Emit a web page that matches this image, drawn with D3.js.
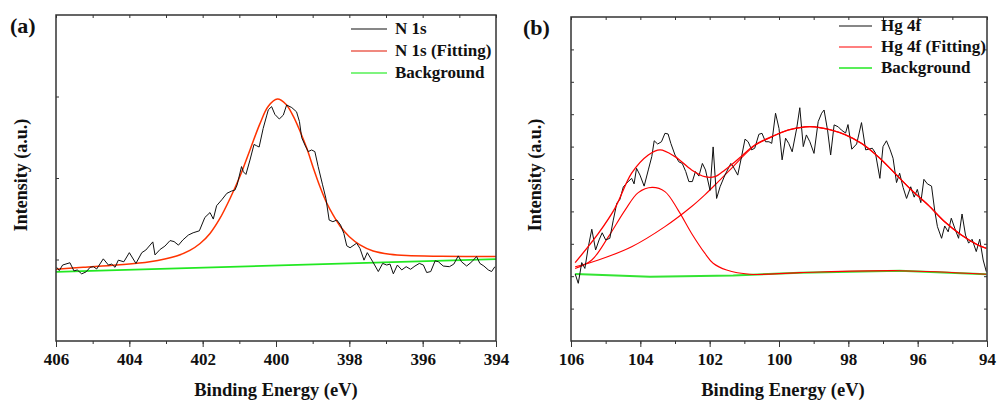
<!DOCTYPE html>
<html>
<head>
<meta charset="utf-8">
<script src="https://cdn.jsdelivr.net/npm/d3@7"></script>
<style>
  body { margin: 0; background: #fff; }
  svg { display: block; }
  text { font-family: "Liberation Serif", "Times New Roman", serif; font-weight: bold; }
</style>
</head>
<body>
<svg id="chart" width="997" height="401"></svg>
<script>
// tick labels (binding energy, eV)
const nTicks = [406, 404, 402, 400, 398, 396, 394]
const hgTicks = [106, 104, 102, 100, 98, 96, 94]

const nLegend = ['N 1s', 'N 1s (Fitting)', 'Background']
const hgLegend = ['Hg 4f', 'Hg 4f (Fitting)', 'Background']

// N 1s spectrum [eV, intensity a.u.]
const nRaw = [
  [405.98,22.6],[405.91,21.6],[405.82,23.3],[405.62,24.0],[405.51,21.5],[405.42,21.8],[405.30,20.6],[405.18,21.2],
  [405.07,22.6],[404.98,22.8],[404.89,22.1],[404.71,25.2],[404.57,23.3],[404.48,23.6],[404.39,22.6],[404.30,24.8],
  [404.15,24.3],[404.00,27.1],[403.82,23.8],[403.66,27.1],[403.55,27.9],[403.36,30.4],[403.30,26.4],[403.16,28.1],
  [403.03,29.1],[402.89,30.8],[402.78,30.5],[402.66,29.4],[402.54,31.0],[402.39,32.5],[402.26,33.2],[402.09,33.8],
  [401.94,37.9],[401.80,39.4],[401.71,37.4],[401.62,41.5],[401.48,43.3],[401.34,45.3],[401.21,46.0],[401.12,46.3],
  [401.06,47.9],[400.94,53.5],[400.89,51.9],[400.82,51.1],[400.71,55.5],[400.60,60.3],[400.53,59.9],[400.46,59.5],
  [400.35,65.2],[400.25,69.3],[400.21,70.9],[400.12,71.9],[400.03,69.5],[399.91,68.1],[399.80,69.3],[399.71,72.4],
  [399.57,71.6],[399.44,70.3],[399.36,67.3],[399.30,62.4],[399.21,60.1],[399.12,58.1],[399.03,58.6],[398.94,58.1],
  [398.85,53.5],[398.73,47.9],[398.64,43.8],[398.55,37.1],[398.45,36.6],[398.34,37.1],[398.24,35.6],[398.15,33.0],
  [398.07,29.2],[397.98,28.6],[397.80,30.0],[397.71,28.4],[397.60,24.8],[397.51,27.1],[397.36,24.3],[397.21,21.3],
  [397.09,23.8],[396.98,23.3],[396.89,23.6],[396.80,20.6],[396.69,23.3],[396.57,21.8],[396.45,22.8],[396.33,22.0],
  [396.21,23.0],[396.09,23.8],[395.98,23.3],[395.89,21.0],[395.78,21.3],[395.66,24.6],[395.57,24.3],[395.44,23.0],
  [395.27,22.8],[395.15,23.6],[395.03,26.1],[394.94,24.3],[394.80,23.0],[394.66,24.3],[394.53,25.9],[394.44,23.8],
  [394.33,23.0],[394.21,21.8],[394.12,21.3],[394.03,22.8]
]
const nFit = [
  [406.00,22.0],[405.26,22.6],[404.34,23.3],[403.44,24.3],[402.71,26.1],[402.35,27.8],[402.07,29.9],[401.80,33.0],
  [401.53,37.6],[401.25,43.8],[400.98,50.6],[400.71,58.6],[400.44,66.6],[400.21,72.0],[399.96,74.2],[399.73,72.6],
  [399.53,69.0],[399.35,64.5],[399.16,59.1],[398.98,53.0],[398.80,47.3],[398.62,42.4],[398.44,38.6],[398.25,35.2],
  [398.00,32.0],[397.71,29.5],[397.35,27.6],[396.89,26.6],[396.44,26.2],[395.50,26.0],[394.00,25.9]
]
const nBg = [[406.0,21.2],[394.0,25.1]]

// Hg 4f spectrum [eV, intensity a.u.]
const hgRaw = [
  [105.88,20.7],[105.79,17.8],[105.69,24.2],[105.60,22.4],[105.50,29.1],[105.40,34.5],[105.29,28.1],[105.19,31.2],
  [105.10,33.4],[105.00,31.2],[104.88,31.7],[104.78,37.3],[104.68,42.5],[104.59,43.7],[104.49,47.6],[104.35,49.2],
  [104.25,50.2],[104.18,48.5],[104.11,53.3],[104.01,51.2],[103.89,47.8],[103.77,52.8],[103.67,56.9],[103.60,61.8],
  [103.50,60.8],[103.39,61.5],[103.29,64.1],[103.20,63.9],[103.12,61.0],[103.00,57.4],[102.89,55.3],[102.79,54.8],
  [102.69,52.3],[102.60,49.2],[102.50,49.2],[102.41,52.3],[102.31,50.9],[102.21,54.8],[102.12,52.8],[101.99,46.5],
  [101.90,59.9],[101.80,44.0],[101.70,47.6],[101.56,51.2],[101.39,54.8],[101.32,53.8],[101.19,51.2],[101.08,56.9],
  [100.98,62.3],[100.89,61.5],[100.79,59.0],[100.70,59.5],[100.58,63.8],[100.49,64.1],[100.39,61.5],[100.29,61.5],
  [100.21,61.0],[100.10,70.3],[100.00,65.6],[99.91,55.9],[99.81,62.6],[99.72,61.0],[99.62,58.4],[99.49,65.6],
  [99.40,72.0],[99.30,60.0],[99.21,63.6],[99.11,61.5],[98.99,57.9],[98.87,67.7],[98.77,70.3],[98.70,71.3],
  [98.60,65.1],[98.51,57.4],[98.41,66.7],[98.29,66.1],[98.20,65.1],[98.08,64.2],[98.01,66.8],[97.90,59.2],
  [97.76,60.8],[97.62,67.4],[97.50,59.0],[97.41,59.2],[97.31,59.5],[97.22,58.1],[97.09,50.2],[97.00,60.0],
  [96.90,61.8],[96.80,59.2],[96.71,56.4],[96.61,48.9],[96.52,51.8],[96.42,47.4],[96.32,44.0],[96.20,47.6],
  [96.10,44.4],[96.01,46.8],[95.91,42.7],[95.82,49.9],[95.72,48.5],[95.60,47.8],[95.51,40.4],[95.43,35.3],
  [95.31,31.7],[95.22,35.5],[95.12,33.7],[95.03,37.9],[94.93,34.8],[94.82,31.7],[94.72,39.2],[94.62,32.7],
  [94.53,30.2],[94.43,31.4],[94.31,27.6],[94.21,31.4],[94.11,25.0],[94.02,21.4]
]
const hgFit = [
  [105.88,24.2],[105.21,33.2],[104.73,41.0],[104.25,51.8],[103.77,57.4],[103.43,59.0],[103.00,56.9],[102.52,52.8],
  [102.14,50.7],[101.85,50.7],[101.56,52.8],[101.15,56.4],[100.70,60.5],[100.21,63.1],[99.74,65.1],[99.25,66.1],
  [98.97,66.1],[98.49,65.1],[98.10,63.7],[97.62,61.0],[97.14,56.9],[96.66,51.8],[96.18,46.6],[95.70,42.0],
  [95.22,36.8],[94.74,32.7],[94.26,29.6],[94.02,28.6]
]
const hgPeak1 = [
  [105.88,22.4],[105.40,25.0],[104.92,32.2],[104.44,40.4],[104.06,45.8],[103.66,47.4],[103.29,46.1],[102.91,40.4],
  [102.52,33.2],[102.14,27.1],[101.90,24.0],[101.51,21.9],[100.84,20.6],[99.40,21.1],[96.52,21.7],[94.02,20.6]
]
const hgPeak2 = [
  [105.88,22.9],[105.21,25.0],[104.25,29.1],[103.29,35.3],[102.52,41.5],[102.14,45.1],[101.75,49.2],[101.37,53.3],
  [100.70,60.3],[100.21,63.0],[99.74,65.1],[99.25,66.1],[98.97,66.1],[98.49,65.1],[98.10,63.7],[97.62,61.0],
  [97.14,56.9],[96.66,51.8],[96.18,46.6],[95.70,42.0],[95.22,36.8],[94.74,32.7],[94.26,29.6],[94.02,28.6]
]
const hgBg = [[105.88,20.7],[103.72,19.8],[101.32,20.2],[99.40,21.1],[96.52,21.7],[94.02,20.6]]

const svg = d3.select('#chart')
const FONT = '"Liberation Serif", "Times New Roman", serif'

function drawPanel(p) {
  const g = svg.append('g')
  const x = d3.scaleLinear().domain([p.ticks[0], p.ticks[p.ticks.length - 1]]).range([p.left, p.right])
  const y = d3.scaleLinear().domain([0, 100]).range([p.bottom, p.top])
  const minor = d3.range(p.ticks[p.ticks.length - 1], p.ticks[0] + 1, 1)

  const clipId = 'clip-' + p.key
  svg.append('clipPath').attr('id', clipId)
    .append('rect').attr('x', p.left).attr('y', p.top).attr('width', p.right - p.left).attr('height', p.bottom - p.top)

  const line = d3.line().x(d => x(d[0])).y(d => y(d[1]))
  const smooth = d3.line().x(d => x(d[0])).y(d => y(d[1])).curve(d3.curveCatmullRom.alpha(0.5))

  const plot = g.append('g').attr('clip-path', `url(#${clipId})`)
  p.series.forEach(s => {
    plot.append('path')
      .datum(s.data)
      .attr('fill', 'none')
      .attr('stroke', s.color)
      .attr('stroke-width', s.width)
      .attr('stroke-linejoin', 'round')
      .attr('d', s.smooth ? smooth(s.data) : line(s.data))
  })

  // bottom axis, labels
  const bottom = g.append('g').attr('transform', `translate(0,${p.bottom})`)
  bottom.call(d3.axisBottom(x).tickValues(p.ticks).tickSize(6).tickPadding(6).tickFormat(d3.format('d')))
  bottom.append('g').call(d3.axisBottom(x).tickValues(minor).tickSize(3).tickFormat(''))
  bottom.attr('font-family', FONT).attr('font-size', 17).attr('font-weight', 'bold')
  bottom.selectAll('text').attr('fill', '#111')

  // inward ticks on top / left / right
  g.append('g').attr('transform', `translate(0,${p.top})`)
    .call(d3.axisBottom(x).tickValues(minor).tickSize(3).tickFormat(''))
  g.append('g').attr('transform', `translate(${p.left},0)`)
    .call(d3.axisRight(y).tickValues(p.yTicks).tickSize(3).tickFormat(''))
  if (p.rightTicks) {
    g.append('g').attr('transform', `translate(${p.right},0)`)
      .call(d3.axisLeft(y).tickValues(p.yTicks).tickSize(3).tickFormat(''))
  }
  g.selectAll('.domain').remove()
  g.selectAll('.tick line').attr('stroke', '#333')

  g.append('rect')
    .attr('x', p.left).attr('y', p.top)
    .attr('width', p.right - p.left).attr('height', p.bottom - p.top)
    .attr('fill', 'none').attr('stroke', '#333').attr('stroke-width', 1.5)

  // titles
  g.append('text')
    .attr('x', (p.left + p.right) / 2 + p.xTitleShift).attr('y', 396)
    .attr('text-anchor', 'middle').attr('font-size', 18.5).attr('fill', '#111')
    .text('Binding Energy (eV)')
  g.append('text')
    .attr('transform', `translate(${p.yTitleX},175) rotate(-90)`)
    .attr('text-anchor', 'middle').attr('font-size', 18).attr('fill', '#111')
    .text('Intensity (a.u.)')
  g.append('text')
    .attr('x', p.labelX).attr('y', p.labelY)
    .attr('font-size', 22).attr('fill', '#111')
    .text(p.label)

  // legend
  const leg = g.append('g')
  p.legend.forEach((name, i) => {
    const yy = p.legendY + i * p.legendStep
    leg.append('line')
      .attr('x1', p.legendX[0]).attr('x2', p.legendX[1])
      .attr('y1', yy).attr('y2', yy)
      .attr('stroke', p.legendColors[i]).attr('stroke-width', i === 2 ? 1.5 : 1.2)
    leg.append('text')
      .attr('x', p.legendX[1] + p.legendGap).attr('y', yy + 5)
      .attr('font-size', 17).attr('fill', '#111')
      .text(name)
  })
}

drawPanel({
  key: 'a', label: '(a)', labelX: 10, labelY: 33,
  left: 56, right: 496, top: 15, bottom: 341,
  ticks: nTicks, yTicks: [25, 50, 75],
  rightTicks: false, xTitleShift: 0, yTitleX: 27,
  series: [
    { data: nBg, color: '#22e822', width: 1.6 },
    { data: nFit, color: '#ff3300', width: 1.5, smooth: true },
    { data: nRaw, color: '#111', width: 1 }
  ],
  legend: nLegend, legendColors: ['#111', '#e21400', '#55f055'],
  legendX: [351, 387], legendGap: 8, legendY: 29, legendStep: 22
})

drawPanel({
  key: 'b', label: '(b)', labelX: 523, labelY: 35,
  left: 571, right: 987, top: 17, bottom: 341,
  ticks: hgTicks, yTicks: d3.range(10, 100, 10),
  rightTicks: true, xTitleShift: 4, yTitleX: 541,
  series: [
    { data: hgBg, color: '#33e433', width: 2 },
    { data: hgPeak1, color: '#ff0000', width: 1.1, smooth: true },
    { data: hgPeak2, color: '#ff0000', width: 1.1, smooth: true },
    { data: hgRaw, color: '#111', width: 1 },
    { data: hgFit, color: '#ff0000', width: 1.3, smooth: true }
  ],
  legend: hgLegend, legendColors: ['#111', '#ff0000', '#22e822'],
  legendX: [839, 872], legendGap: 9, legendY: 26, legendStep: 21
})
</script>
</body>
</html>
